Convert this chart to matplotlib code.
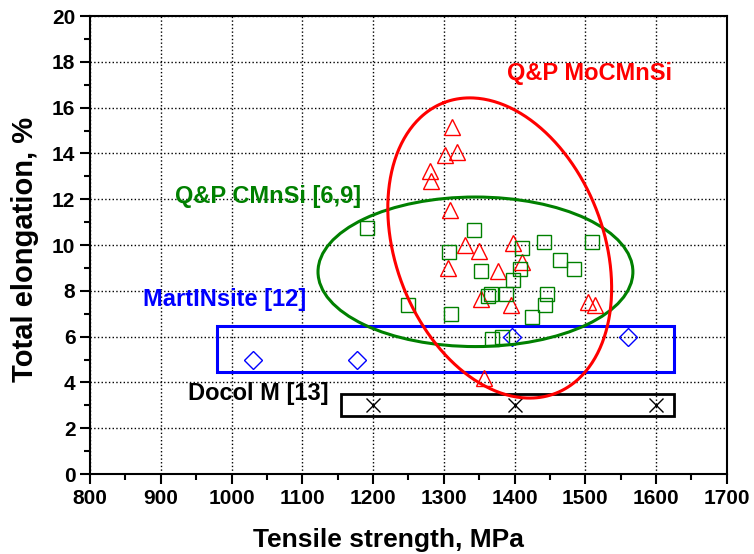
#! /usr/bin/env python

#DESCRIPTION: Total elongation vs tensile strength for Q&P, MartINsite and Docol M steels

###########################################
#MODULES
###########################################
import numpy as np
import matplotlib
matplotlib.use("Agg")
import matplotlib.pyplot as plt
from matplotlib.patches import Ellipse, Rectangle
from matplotlib.ticker import MultipleLocator

plt.rcParams['font.family'] = ['Liberation Sans', 'DejaVu Sans']
plt.rcParams['font.weight'] = 'bold'

###########################################
#VALUES
###########################################

#Q&P MoCMnSi (red triangles)
ts_mo = [1311, 1319, 1302, 1281, 1282, 1309, 1330, 1350, 1306, 1376, 1353, 1398, 1410, 1395, 1504, 1514, 1357]
el_mo = [15.15, 14.07, 13.94, 13.25, 12.8, 11.53, 9.98, 9.76, 8.98, 8.88, 7.65, 10.09, 9.26, 7.40, 7.52, 7.38, 4.2]

#Q&P CMnSi [6,9] (green squares)
ts_c = [1192, 1342, 1307.5, 1352, 1366, 1362, 1388, 1249, 1309.5, 1368.5, 1382,
        1441, 1510, 1411, 1464, 1484, 1408, 1398, 1446.5, 1443.5, 1425]
el_c = [10.76, 10.66, 9.68, 8.86, 7.87, 7.78, 7.88, 7.38, 6.98, 5.9, 6.0,
        10.15, 10.15, 9.88, 9.34, 8.97, 8.97, 8.47, 7.87, 7.37, 6.87]

#MartINsite [12] (blue diamonds)
ts_m = [1030, 1178, 1397, 1560]
el_m = [5, 5, 6, 6]

#Docol M [13] (black crosses)
ts_d = [1200, 1400, 1600]
el_d = [3, 3, 3]

#group outlines
green_ell = (1344.7, 8.83, 445, 6.53)          #center x, center y, width, height
red_ell_c = (1379, 9.87)                        #center
red_ell_a = (-78.7, 6.35)                       #conjugate semi-axis 1
red_ell_b = (137.2, 1.625)                      #conjugate semi-axis 2
blue_box = (980, 4.47, 645, 1.98)               #x, y, width, height
black_box = (1155, 2.53, 470, 0.95)

########################################### MAIN PROGRAM ###########################################

fig = plt.figure(figsize=(7.54, 5.54), dpi=100)
ax = fig.add_axes([0.1194, 0.1444, 0.8446, 0.8267])

#boxes and ellipses
ax.add_patch(Rectangle(blue_box[:2], blue_box[2], blue_box[3], fill=False, ec='#0000ff', lw=2.2, zorder=2))
ax.add_patch(Rectangle(black_box[:2], black_box[2], black_box[3], fill=False, ec='black', lw=2.0, zorder=2))
ax.add_patch(Ellipse(green_ell[:2], green_ell[2], green_ell[3], fill=False, ec='#008000', lw=2.2, zorder=4))
t = np.linspace(0, 2*np.pi, 400)
ax.plot(red_ell_c[0] + red_ell_a[0]*np.cos(t) + red_ell_b[0]*np.sin(t),
        red_ell_c[1] + red_ell_a[1]*np.cos(t) + red_ell_b[1]*np.sin(t),
        color='#ff0000', lw=2.2, zorder=4)

#points
ax.plot(ts_m, el_m, linestyle='none', marker='D', ms=9, mfc='none', mec='#0000ff', mew=1.0, zorder=3)
ax.plot(ts_d, el_d, linestyle='none', marker='x', ms=10, mec='black', mew=1.0, zorder=3)
ax.plot(ts_mo, el_mo, linestyle='none', marker='^', ms=12, mfc='none', mec='#ff0000', mew=1.0, zorder=3)
ax.plot(ts_c, el_c, linestyle='none', marker='s', ms=10, mfc='none', mec='#008000', mew=1.0, zorder=3)

#labels of the groups
ax.text(1389, 17.5, 'Q&P MoCMnSi', color='#ff0000', fontsize=17, fontweight='bold', va='center')
ax.text(920, 12.14, 'Q&P CMnSi [6,9]', color='#008000', fontsize=17, fontweight='bold', va='center')
ax.text(875, 7.6, 'MartINsite [12]', color='#0000ff', fontsize=17, fontweight='bold', va='center')
ax.text(938, 3.5, 'Docol M [13]', color='black', fontsize=17, fontweight='bold', va='center')

#axes
ax.set_xlim(800, 1700)
ax.set_ylim(0, 20)
ax.xaxis.set_major_locator(MultipleLocator(100))
ax.xaxis.set_minor_locator(MultipleLocator(50))
ax.yaxis.set_major_locator(MultipleLocator(2))
ax.yaxis.set_minor_locator(MultipleLocator(1))
ax.tick_params(which='major', direction='out', length=7, width=1.5, labelsize=15)
ax.tick_params(which='minor', direction='out', length=4, width=1.5)
for lab in ax.get_xticklabels() + ax.get_yticklabels():
    lab.set_fontweight('bold')
for sp in ax.spines.values():
    sp.set_linewidth(1.5)
ax.grid(True, which='major', linestyle=':', color='black', lw=1.0)
ax.set_axisbelow(True)

plt.xlabel('Tensile strength, MPa', fontsize=19, fontweight='bold', va='center')
plt.ylabel('Total elongation, %', fontsize=21, fontweight='bold', va='center')
ax.xaxis.set_label_coords(0.469, -0.144)
ax.yaxis.set_label_coords(-0.102, 0.49)

plt.savefig('out.png', dpi=100)
########################################### END OF MAIN PROGRAM ###########################################
